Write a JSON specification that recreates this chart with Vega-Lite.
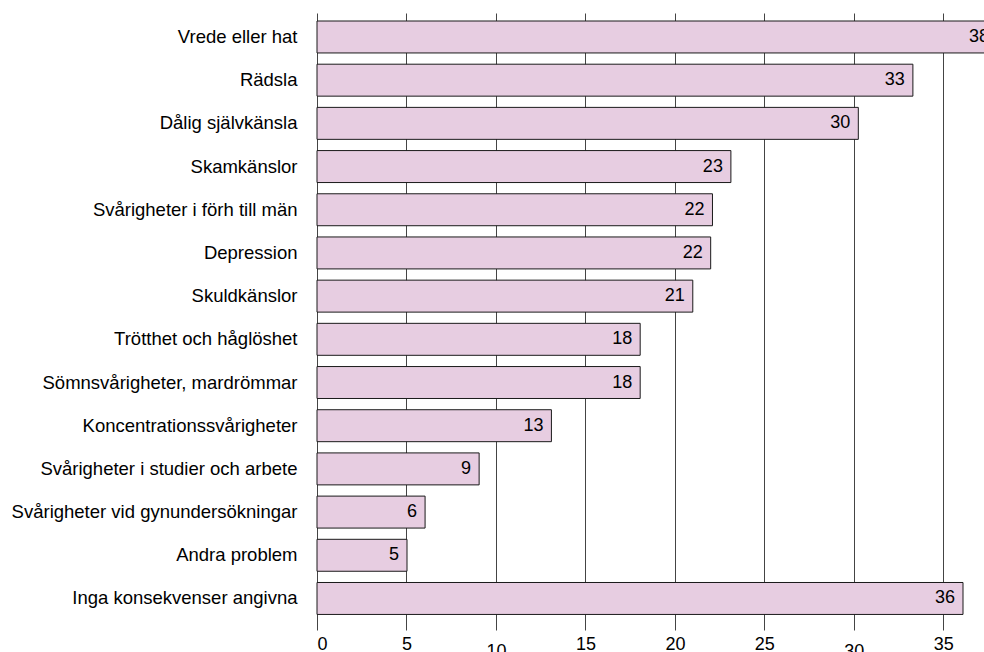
{
  "$schema": "https://vega.github.io/schema/vega-lite/v6.json",
  "width": 680,
  "height": 609,
  "padding": {"left": 11, "top": 12, "right": 0, "bottom": 0},
  "background": "white",
  "config": {"view": {"stroke": null}, "font": "Liberation Sans"},
  "data": {"values": [
    {"k": "Vrede eller hat", "v": 38.0},
    {"k": "Rädsla", "v": 33.3},
    {"k": "Dålig självkänsla", "v": 30.25},
    {"k": "Skamkänslor", "v": 23.13},
    {"k": "Svårigheter i förh till män", "v": 22.1},
    {"k": "Depression", "v": 22.0},
    {"k": "Skuldkänslor", "v": 21.0},
    {"k": "Trötthet och håglöshet", "v": 18.06},
    {"k": "Sömnsvårigheter, mardrömmar", "v": 18.06},
    {"k": "Koncentrationssvårigheter", "v": 13.1},
    {"k": "Svårigheter i studier och arbete", "v": 9.06},
    {"k": "Svårigheter vid gynundersökningar", "v": 6.04},
    {"k": "Andra problem", "v": 5.03},
    {"k": "Inga konsekvenser angivna", "v": 36.1}
  ]},
  "encoding": {
    "y": {
      "field": "k", "type": "nominal", "sort": null,
      "scale": {"paddingInner": 0.26, "paddingOuter": 0.18, "align": 0},
      "axis": {"title": null, "domain": false, "ticks": false, "labelPadding": 20, "labelLimit": 500, "labelFontSize": 18.5, "labelColor": "#000", "labelFont": "Liberation Sans"}
    }
  },
  "layer": [
    {
      "mark": {"type": "bar", "fill": "#e7cde1", "stroke": "#1a1a1a", "strokeWidth": 1},
      "encoding": {
        "x": {
          "field": "v", "type": "quantitative",
          "scale": {"domain": [0, 38], "nice": false, "zero": true},
          "axis": {
            "orient": "bottom", "title": null, "values": [0, 5, 10, 15, 20, 25, 30, 35],
            "grid": true, "gridColor": "#444", "gridWidth": 1, "gridOpacity": 1,
            "domain": false, "ticks": false,
            "labelFontSize": 18, "labelColor": "#000", "labelFont": "Liberation Sans",
            "labelPadding": {"condition": {"test": "datum.value === 10 || datum.value === 30", "value": 12}, "value": 5}
          }
        }
      }
    },
    {
      "mark": {"type": "text", "align": "right", "baseline": "middle", "dx": -8, "fontSize": 18, "font": "Liberation Sans", "color": "#000"},
      "encoding": {
        "x": {
          "field": "v", "type": "quantitative",
          "scale": {"domain": [0, 38], "nice": false, "zero": true},
          "axis": {
            "orient": "top", "title": null, "values": [0, 5, 10, 15, 20, 25, 30, 35],
            "grid": false, "domain": false, "labels": false,
            "ticks": true, "tickSize": 8, "tickColor": "#444", "tickWidth": 1
          }
        },
        "text": {"field": "v", "type": "quantitative", "format": ".0f"}
      }
    }
  ],
  "resolve": {"axis": {"x": "independent"}}
}
